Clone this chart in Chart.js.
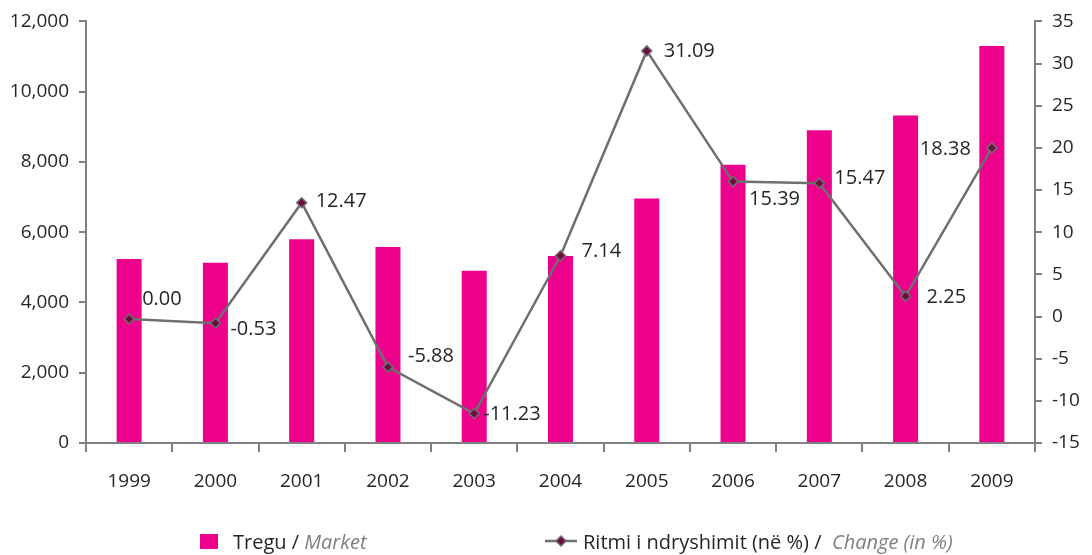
<!DOCTYPE html>
<html>
<head>
<meta charset="utf-8">
<script src="https://cdn.jsdelivr.net/npm/chart.js@4.4.1/dist/chart.umd.min.js"></script>
<style>
    html, body { margin: 0; padding: 0; background: #fff; }
    #wrap { position: relative; width: 1092px; height: 555px; }
    #legend {
        position: absolute; left: 0; top: 527px; width: 1092px; height: 28px;
        font-family: "Open Sans", sans-serif; font-size: 20px; color: #262626;
    }
    .item { position: absolute; top: 0; display: flex; align-items: center; height: 28px; white-space: nowrap; }
    .item i { color: #7f7f7f; }
    .sq { width: 18px; height: 15px; background: #EC008C; margin-right: 15px; }
</style>
</head>
<body>
<div id="wrap">
    <canvas id="chart" width="1092" height="555"></canvas>
    <div id="legend">
        <div class="item" style="left:200px"><span class="sq"></span>Tregu /&nbsp;<i>Market</i></div>
        <div class="item" style="left:545px"><canvas id="lineKey" width="32" height="14" style="margin-right:6px"></canvas>Ritmi i ndryshimit (në %) /&nbsp;&nbsp;<i>Change (in %)</i></div>
    </div>
</div>
<script>
const years = ["1999", "2000", "2001", "2002", "2003", "2004", "2005", "2006", "2007", "2008", "2009"];
const market = [5240, 5130, 5800, 5580, 4900, 5320, 6960, 7920, 8900, 9320, 11300];
const changePct = [-0.3, -0.8, 13.5, -6.0, -11.5, 7.2, 31.5, 16.0, 15.8, 2.4, 20.0];
const changeLabels = ["0.00", "-0.53", "12.47", "-5.88", "-11.23", "7.14", "31.09", "15.39", "15.47", "2.25", "18.38"];
const leftTicks = [0, 2000, 4000, 6000, 8000, 10000, 12000];
const rightTicks = [-15, -10, -5, 0, 5, 10, 15, 20, 25, 30, 35];

// label placement next to each point: [dx, dy, align]
const labelOffsets = [
    [13, -20, "left"], [15, 6, "left"], [14, -1, "left"], [20, -11, "left"],
    [9, 1, "left"], [21, -5, "left"], [17, 0, "left"], [16, 18, "left"],
    [15, -5, "left"], [21, 1, "left"], [-21, 1, "right"]
];

const FONT = "'Open Sans', sans-serif";
const axisGray = "#808080";
const textColor = "#262626";

// small legend key for the line
const k = document.getElementById("lineKey").getContext("2d");
k.strokeStyle = "#6f6f6f"; k.lineWidth = 2.5;
k.beginPath(); k.moveTo(0, 7); k.lineTo(32, 7); k.stroke();
k.fillStyle = "#6b0f3f"; k.strokeStyle = "#6f6f6f"; k.lineWidth = 1.5;
k.beginPath(); k.moveTo(16, 2); k.lineTo(21, 7); k.lineTo(16, 12); k.lineTo(11, 7); k.closePath(); k.fill(); k.stroke();

const pointLabels = {
    id: "pointLabels",
    afterDatasetsDraw(chart) {
        const ctx = chart.ctx;
        const meta = chart.getDatasetMeta(1);
        ctx.save();
        ctx.font = "20px " + FONT;
        ctx.fillStyle = textColor;
        ctx.textBaseline = "middle";
        meta.data.forEach((pt, i) => {
            const [dx, dy, align] = labelOffsets[i];
            ctx.textAlign = align;
            ctx.fillText(changeLabels[i], pt.x + dx, pt.y + dy);
        });
        ctx.restore();
    }
};

new Chart(document.getElementById("chart"), {
    type: "bar",
    data: {
        labels: years,
        datasets: [
            {
                label: "Tregu / Market",
                data: market,
                backgroundColor: "#EC008C",
                barPercentage: 0.29,
                categoryPercentage: 1,
                yAxisID: "y",
                order: 2
            },
            {
                type: "line",
                label: "Ritmi i ndryshimit (në %) / Change (in %)",
                data: changePct,
                borderColor: "#6f6f6f",
                borderWidth: 2.5,
                pointStyle: "rectRot",
                pointRadius: 5,
                pointBackgroundColor: "#6b0f3f",
                pointBorderColor: "#6f6f6f",
                pointBorderWidth: 1.5,
                tension: 0,
                yAxisID: "y1",
                order: 1
            }
        ]
    },
    options: {
        responsive: false,
        animation: false,
        layout: { padding: { top: 0, left: 0, right: 0, bottom: 0 } },
        plugins: {
            legend: { display: false },
            tooltip: { enabled: false }
        },
        scales: {
            x: {
                grid: { offset: true, drawOnChartArea: false, drawTicks: true, tickLength: 9, color: axisGray, lineWidth: 2 },
                border: { color: axisGray, width: 2 },
                ticks: { color: textColor, font: { family: FONT, size: 19 }, padding: 18, maxRotation: 0 },
                afterFit: (s) => { s.height = 112; }
            },
            y: {
                position: "left",
                min: 0, max: 12000,
                afterBuildTicks: (s) => { s.ticks = leftTicks.map(v => ({ value: v })); },
                grid: { drawOnChartArea: false, tickLength: 7, color: axisGray, lineWidth: 2 },
                border: { color: axisGray, width: 2 },
                ticks: {
                    color: textColor, font: { family: FONT, size: 19 }, padding: 10,
                    callback: (v) => v.toLocaleString("en-US")
                },
                afterFit: (s) => { s.width = 86; }
            },
            y1: {
                position: "right",
                min: -15, max: 35,
                afterBuildTicks: (s) => { s.ticks = rightTicks.map(v => ({ value: v })); },
                grid: { drawOnChartArea: false, tickLength: 7, color: axisGray, lineWidth: 2 },
                border: { color: axisGray, width: 2 },
                ticks: { color: textColor, font: { family: FONT, size: 19 }, padding: 10 },
                afterFit: (s) => { s.width = 57; }
            }
        }
    },
    plugins: [pointLabels]
});
</script>
</body>
</html>
